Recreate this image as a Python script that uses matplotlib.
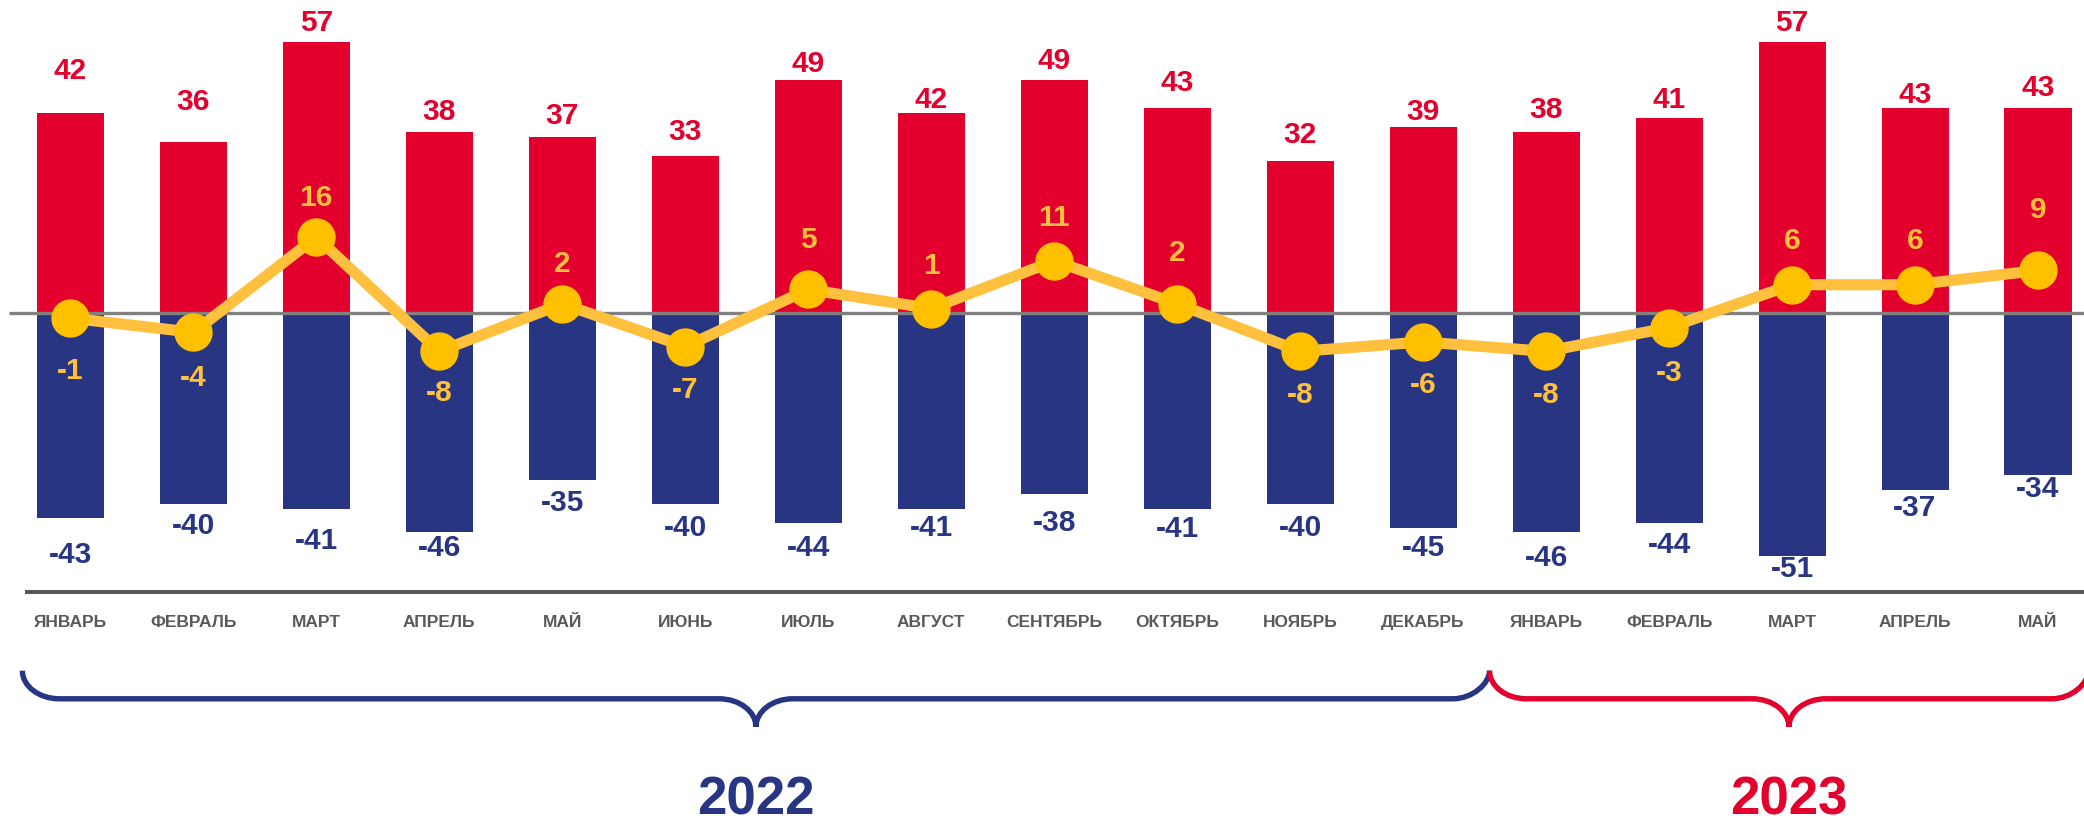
import matplotlib
matplotlib.use("Agg")
import matplotlib.pyplot as plt
import numpy as np
from matplotlib.path import Path
from matplotlib.patches import PathPatch

plt.rcParams['font.family'] = ['Liberation Sans', 'DejaVu Sans']
plt.rcParams['font.weight'] = 'bold'

##### Data #####
months = ['ЯНВАРЬ', 'ФЕВРАЛЬ', 'МАРТ', 'АПРЕЛЬ', 'МАЙ', 'ИЮНЬ', 'ИЮЛЬ', 'АВГУСТ',
          'СЕНТЯБРЬ', 'ОКТЯБРЬ', 'НОЯБРЬ', 'ДЕКАБРЬ',
          'ЯНВАРЬ', 'ФЕВРАЛЬ', 'МАРТ', 'АПРЕЛЬ', 'МАЙ']
positive = [42, 36, 57, 38, 37, 33, 49, 42, 49, 43, 32, 39, 38, 41, 57, 43, 43]
negative = [-43, -40, -41, -46, -35, -40, -44, -41, -38, -41, -40, -45, -46, -44, -51, -37, -34]
balance = [-1, -4, 16, -8, 2, -7, 5, 1, 11, 2, -8, -6, -8, -3, 6, 6, 9]
years = ['2022', '2023']
year_months = [12, 5]

# label gaps (px) as placed by hand in the original
pos_gap = [42, 40, 19, 20, 21, 24, 16, 13, 19, 25, 26, 15, 22, 18, 19, 13, 20]
neg_gap = [37, 22, 32, 16, 23, 24, 25, 19, 29, 20, 24, 20, 26, 22, 13, 18, 14]
bal_gap = [53, 46, 39, 42, 40, 43, 49, 43, 43, 51, 44, 43, 44, 45, 44, 44, 60]

##### Style #####
RED = '#E3002C'
NAVY = '#283583'
YELLOW = '#FFC000'
YELLOW_LINE = '#FFC03D'
GRAY = '#595959'
PT = 0.72  # points per pixel at dpi 100

fig = plt.figure(figsize=(20.84, 8.23), dpi=100)
ax = fig.add_axes([0, 0, 1, 1])
ax.set_xlim(-0.572, 16.374)
ax.set_ylim(-106.97, 65.75)
ax.axis('off')

x = np.arange(len(months))
ax.bar(x, positive, width=0.545, color=RED, zorder=2)
ax.bar(x, negative, width=0.545, color=NAVY, zorder=2)

# zero line and bottom axis line
ax.hlines(0, -0.5, 16.374, color='#808080', lw=2.4, zorder=3)
ax.hlines(-58.5, -0.372, 16.374, color=GRAY, lw=2.9, zorder=3)

ax.plot(x, balance, color=YELLOW_LINE, lw=8, zorder=4, solid_capstyle='round')
ax.plot(x, balance, 'o', color=YELLOW, markersize=26.6, zorder=5)

for i in range(len(months)):
    ax.annotate(str(positive[i]), (x[i], positive[i]), xytext=(0, pos_gap[i] * PT),
                textcoords='offset points', ha='center', va='center',
                fontsize=21.5, color=RED, fontweight='bold')
    ax.annotate(str(negative[i]), (x[i], negative[i]), xytext=(0, -neg_gap[i] * PT),
                textcoords='offset points', ha='center', va='center',
                fontsize=21.5, color=NAVY, fontweight='bold')
    sign = 1 if balance[i] > 0 else -1
    ax.annotate(str(balance[i]), (x[i], balance[i]), xytext=(0, sign * bal_gap[i] * PT),
                textcoords='offset points', ha='center', va='center',
                fontsize=21.5, color=YELLOW_LINE, fontweight='bold', zorder=6)
    ax.text(x[i], -64.8, months[i], ha='center', va='center',
            fontsize=12.5, color=GRAY, fontweight='bold')


def brace(x0, x1, color):
    # curly brace opening upward, from x0 to x1
    top, mid, tip = -75.0, -80.9, -86.8
    rx, ry = 0.30, top - mid
    xc = (x0 + x1) / 2
    k = 0.5523
    dy = mid - tip
    verts = [
        (x0, top),
        (x0, top - k * ry), (x0 + rx - k * rx, mid), (x0 + rx, mid),
        (xc - rx, mid),
        (xc - rx + k * rx, mid), (xc, tip + k * dy), (xc, tip),
        (xc, tip + k * dy), (xc + rx - k * rx, mid), (xc + rx, mid),
        (x1 - rx, mid),
        (x1 - rx + k * rx, mid), (x1, mid + k * ry), (x1, top),
    ]
    codes = [Path.MOVETO,
             Path.CURVE4, Path.CURVE4, Path.CURVE4,
             Path.LINETO,
             Path.CURVE4, Path.CURVE4, Path.CURVE4,
             Path.CURVE4, Path.CURVE4, Path.CURVE4,
             Path.LINETO,
             Path.CURVE4, Path.CURVE4, Path.CURVE4]
    ax.add_patch(PathPatch(Path(verts, codes), facecolor='none', edgecolor=color,
                           lw=3.9, clip_on=False, capstyle='butt'))
    return xc


brace_edges = [-0.39, 11.54, 16.41]
year_colors = [NAVY, RED]
for j, year in enumerate(years):
    xc = brace(brace_edges[j], brace_edges[j + 1], year_colors[j])
    ax.text(xc, -102.3, year, ha='center', va='center', fontsize=38,
            color=year_colors[j], fontweight='bold')

fig.savefig('out.png', dpi=100)
